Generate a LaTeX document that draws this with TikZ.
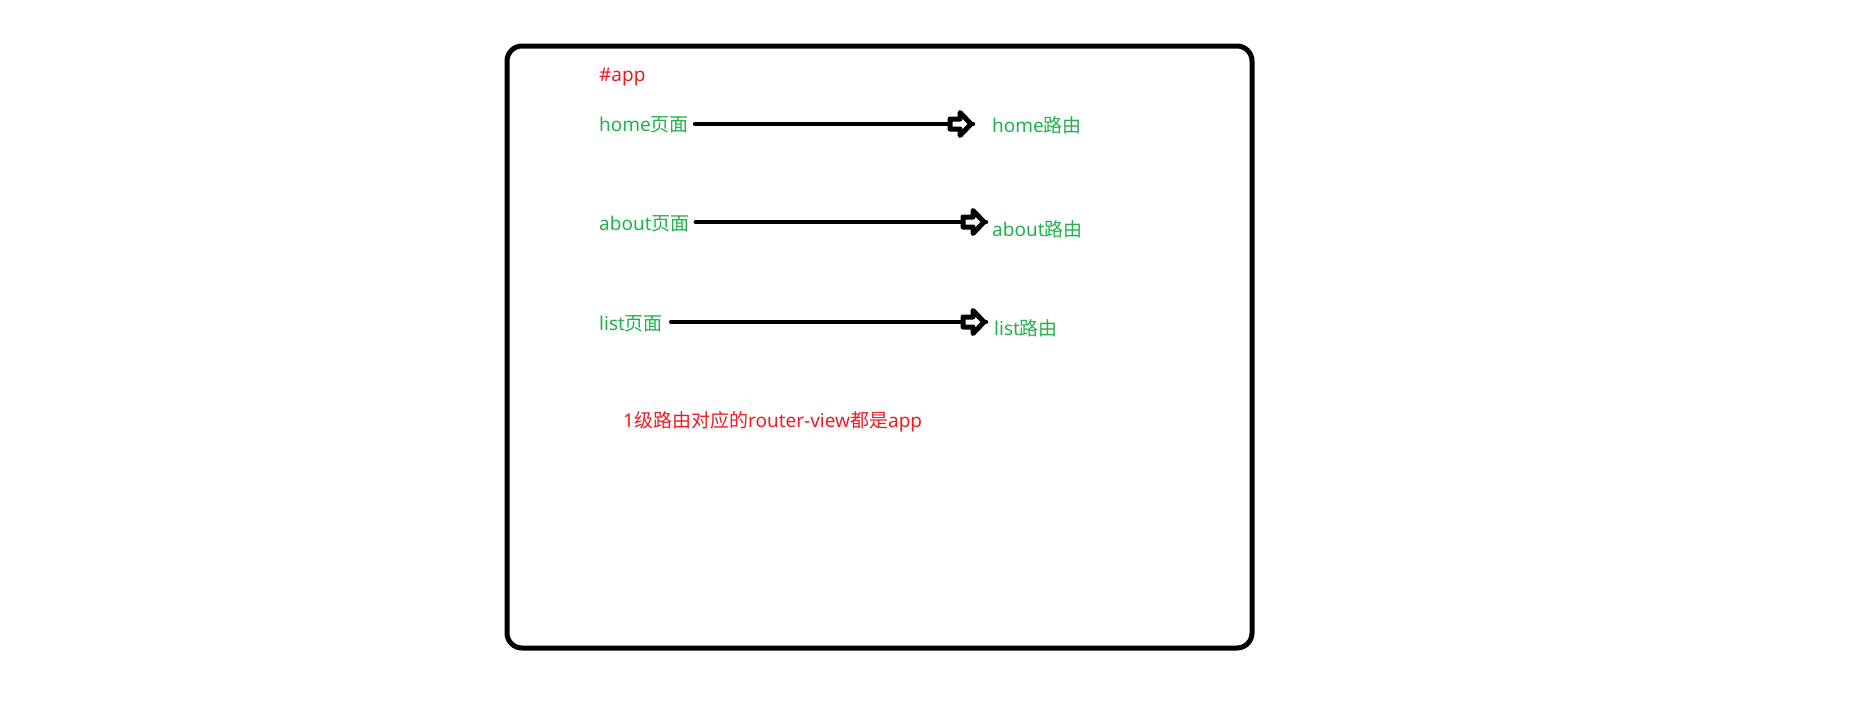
\documentclass[tikz,border=0pt]{standalone}
\usepackage{fontspec}
\setmainfont{Noto Sans}
\newfontfamily\zh{Noto Sans CJK SC}
\definecolor{pgreen}{RGB}{34,177,76}
\definecolor{pred}{RGB}{237,28,36}
\begin{document}
\begin{tikzpicture}[x=1pt,y=-1pt,
  lbl/.style={anchor=west,inner sep=0pt,font=\fontsize{19}{22}\selectfont},
  glbl/.style={lbl,text=pgreen},
  rlbl/.style={lbl,text=pred},
  frame/.style={draw=black,line width=5pt,rounded corners=15pt},
  shaft/.style={draw=black,line width=4.5pt,line cap=round},
  blk/.pic={\draw[black,fill=white,line width=5pt,line join=round]
     (-23,-5) -- (-13,-5) -- (-13,-11.5) -- (-2,0) -- (-13,11.5) -- (-13,5) -- (-23,5) -- cycle;}
]
\useasboundingbox (0,0) rectangle (1856,702);
\draw[frame] (507,46) rectangle (1252,648);

\node[rlbl] (app) at (599,77) {\#app};

\node[glbl] (p1) at (599,125) {home{\zh 页面}};
\node[glbl] (r1) at (992,125) {home{\zh 路由}};
\node[glbl] (p2) at (599,224) {about{\zh 页面}};
\node[glbl] (r2) at (992,229) {about{\zh 路由}};
\node[glbl] (p3) at (599,324) {list{\zh 页面}};
\node[glbl] (r3) at (994,328) {list{\zh 路由}};

\coordinate (t1) at (973,124);
\coordinate (t2) at (986,222);
\coordinate (t3) at (986,322);

\draw[shaft] ([xshift=6pt]p1.east |- t1) -- (t1);
\pic at (t1) {blk};
\draw[shaft] ([xshift=6pt]p2.east |- t2) -- (t2);
\pic at (t2) {blk};
\draw[shaft] ([xshift=8pt]p3.east |- t3) -- (t3);
\pic at (t3) {blk};

\node[rlbl] (note) at (623,422) {1{\zh 级路由对应的}router-view{\zh 都是}app};
\end{tikzpicture}
\end{document}
